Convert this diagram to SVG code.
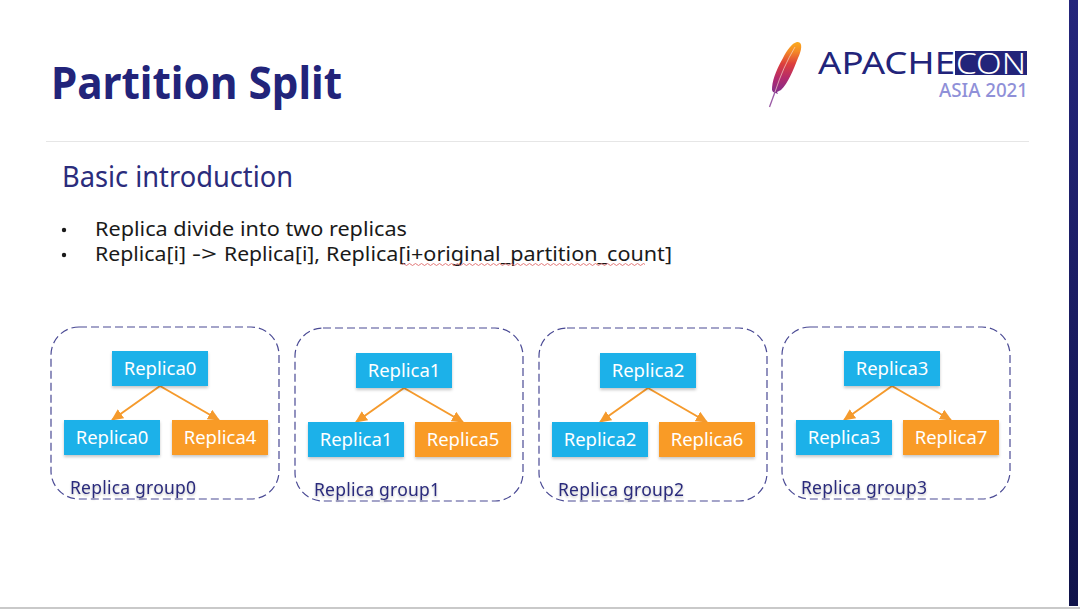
<svg xmlns="http://www.w3.org/2000/svg" width="1080" height="609" viewBox="0 0 1080 609">
<style>
text{font-family:"Noto Sans","Open Sans","Liberation Sans",sans-serif}
.t{font-size:18.500px;fill:#fff;text-anchor:middle}
.b{fill:#1bb1e9;filter:url(#s)}
.o{fill:#f99b25;filter:url(#s)}
.f{fill:#fff;stroke:#4a4a94;stroke-width:1.2;stroke-dasharray:8 4}
.g{font-size:17.500px;fill:#2b2c7c;filter:url(#ts)}
.c{stroke:#f59a2c;stroke-width:2;fill:none;marker-end:url(#a)}
.l{font-size:20.500px;fill:#1a1a1a}
</style>
<defs>
<filter id="s" x="-10%" y="-20%" width="120%" height="145%"><feDropShadow dx="0" dy="2" stdDeviation="1.5" flood-color="#000" flood-opacity=".22"/></filter>
<filter id="ts" x="-5%" y="-20%" width="110%" height="150%"><feDropShadow dx="0" dy="1.500" stdDeviation="1" flood-color="#000" flood-opacity=".25"/></filter>
<marker id="a" markerWidth="14" markerHeight="12" refX="11" refY="5.500" orient="auto" markerUnits="userSpaceOnUse"><path d="M0 0L12 5.500L0 11z" fill="#f59a2c"/></marker>
<linearGradient id="bar" x1="0" y1="0" x2="0" y2="1"><stop offset="0" stop-color="#25267c"/><stop offset="1" stop-color="#10134a"/></linearGradient>
<linearGradient id="fe" x1="0" y1="0" x2="0" y2="1"><stop offset="0" stop-color="#fbab1e"/><stop offset=".18" stop-color="#f58a26"/><stop offset=".42" stop-color="#dd3f3c"/><stop offset=".7" stop-color="#b32a6d"/><stop offset="1" stop-color="#7d2f8e"/></linearGradient>
</defs>
<rect width="1080" height="609" fill="#fff"/>
<rect x="1069" y="0" width="9" height="606" fill="url(#bar)"/>
<rect x="0" y="607" width="1080" height="2" fill="#c9c9c9"/>
<rect x="46" y="141" width="983" height="1" fill="#e6e6e6"/>
<text x="51" y="99" font-size="44.500" font-weight="700" fill="#22247a" textLength="291" lengthAdjust="spacingAndGlyphs">Partition Split</text>
<g id="logo">
<path d="M797 42C803 41 802 50 798 58C793 71 788 83 781 90L777 92L778 94L773 92L772 90C772 82 775 72 783 58C787 50 792 43 797 42Z" fill="url(#fe)"/>
<path d="M775 92L769.500 107" stroke="#9a5aa5" stroke-width="1.300" fill="none"/>
<path d="M795 47Q783 67 775 92" stroke="#f5d5c8" stroke-width=".7" fill="none"/>
<text x="818" y="74" font-size="31" fill="#22247a" textLength="137" lengthAdjust="spacingAndGlyphs">APACHE</text>
<rect x="955" y="51" width="72" height="24" fill="#22247a"/>
<text x="956" y="73.500" font-size="30" font-weight="300" fill="#fff" textLength="70" lengthAdjust="spacingAndGlyphs">CON</text>
<text x="939" y="97" font-size="19" font-weight="500" fill="#8f90d8" textLength="89" lengthAdjust="spacingAndGlyphs">ASIA 2021</text>
</g>
<text x="62" y="187" font-size="28.500" fill="#2b2c7c" textLength="231" lengthAdjust="spacingAndGlyphs">Basic introduction</text>
<circle cx="64" cy="230" r="2.200" fill="#1a1a1a"/>
<circle cx="64" cy="255" r="2.200" fill="#1a1a1a"/>
<text class="l" x="95" y="236" textLength="312" lengthAdjust="spacingAndGlyphs">Replica divide into two replicas</text>
<text class="l" x="95" y="261" textLength="91" lengthAdjust="spacingAndGlyphs">Replica[i]</text>
<text class="l" x="192" y="261" textLength="25" lengthAdjust="spacingAndGlyphs">-&gt;</text>
<text class="l" x="224" y="261" textLength="96" lengthAdjust="spacingAndGlyphs">Replica[i],</text>
<text class="l" x="326" y="261" textLength="346" lengthAdjust="spacingAndGlyphs">Replica[i+original_partition_count]</text>
<path d="M402 264.500q1.500-2 3 0t3 0t3 0t3 0t3 0t3 0t3 0t3 0t3 0t3 0t3 0t3 0t3 0t3 0t3 0t3 0t3 0t3 0t3 0t3 0t3 0t3 0t3 0t3 0t3 0t3 0t3 0t3 0t3 0t3 0t3 0t3 0t3 0t3 0t3 0t3 0t3 0t3 0t3 0t3 0t3 0t3 0t3 0t3 0t3 0t3 0t3 0t3 0t3 0t3 0t3 0t3 0t3 0t3 0t3 0t3 0t3 0t3 0t3 0t3 0t3 0t3 0t3 0t3 0t3 0t3 0t3 0t3 0t3 0t3 0t3 0t3 0t3 0t3 0t3 0t3 0t3 0t3 0t3 0t3 0t3 0" fill="none" stroke="#e06a6a" stroke-width=".9"/>
<g id="group0"><rect class="f" x="51" y="327" width="228" height="172" rx="28"/><text class="g" x="70" y="494" textLength="126">Replica group0</text></g>
<g id="group1"><rect class="f" x="295" y="328" width="228" height="173" rx="28"/><text class="g" x="314" y="496" textLength="126">Replica group1</text></g>
<g id="group2"><rect class="f" x="539" y="328" width="228" height="173" rx="28"/><text class="g" x="558" y="496" textLength="126">Replica group2</text></g>
<g id="group3"><rect class="f" x="782" y="327" width="228" height="172" rx="28"/><text class="g" x="801" y="494" textLength="126">Replica group3</text></g>
<g id="connectors">
<path class="c" d="M160 386L112 420"/><path class="c" d="M160 386L219 420"/>
<path class="c" d="M404 388L356 422"/><path class="c" d="M404 388L463 422"/>
<path class="c" d="M648 388L600 422"/><path class="c" d="M648 388L707 422"/>
<path class="c" d="M892 386L844 420"/><path class="c" d="M892 386L951 420"/>
</g>
<g id="n0"><rect class="b" x="112" y="351" width="96" height="35"/><text class="t" x="160" y="375">Replica0</text></g>
<g id="n0a"><rect class="b" x="64" y="420" width="96" height="35"/><text class="t" x="112" y="444">Replica0</text></g>
<g id="n4"><rect class="o" x="172" y="420" width="96" height="35"/><text class="t" x="220" y="444">Replica4</text></g>
<g id="n1"><rect class="b" x="356" y="353" width="96" height="35"/><text class="t" x="404" y="377">Replica1</text></g>
<g id="n1a"><rect class="b" x="308" y="422" width="96" height="35"/><text class="t" x="356" y="446">Replica1</text></g>
<g id="n5"><rect class="o" x="415" y="422" width="96" height="35"/><text class="t" x="463" y="446">Replica5</text></g>
<g id="n2"><rect class="b" x="600" y="353" width="96" height="35"/><text class="t" x="648" y="377">Replica2</text></g>
<g id="n2a"><rect class="b" x="552" y="422" width="96" height="35"/><text class="t" x="600" y="446">Replica2</text></g>
<g id="n6"><rect class="o" x="659" y="422" width="96" height="35"/><text class="t" x="707" y="446">Replica6</text></g>
<g id="n3"><rect class="b" x="844" y="351" width="96" height="35"/><text class="t" x="892" y="375">Replica3</text></g>
<g id="n3a"><rect class="b" x="796" y="420" width="96" height="35"/><text class="t" x="844" y="444">Replica3</text></g>
<g id="n7"><rect class="o" x="903" y="420" width="96" height="35"/><text class="t" x="951" y="444">Replica7</text></g>
</svg>
